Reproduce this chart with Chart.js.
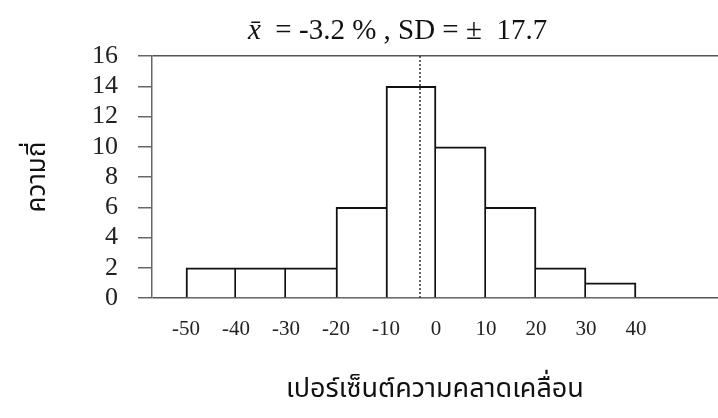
<!DOCTYPE html>
<html>
<head>
<meta charset="utf-8">
<script src="https://cdn.jsdelivr.net/npm/chart.js@4/dist/chart.umd.min.js"></script>
<style>
  body { margin: 0; background: #fff; }
</style>
</head>
<body>
<canvas id="histo" width="718" height="418"></canvas>
<script>
// bins are 10 wide, each starts at binStart
const binStart = [-50, -40, -30, -20, -10, 0, 10, 20, 30];
const counts = [2, 2, 2, 6, 14, 10, 6, 2, 1];
const xTicks = [-50, -40, -30, -20, -10, 0, 10, 20, 30, 40];
const yTicks = [0, 2, 4, 6, 8, 10, 12, 14, 16];
const meanValue = -3.2;
const sdValue = 17.7;

const serif = "'Liberation Serif', 'Times New Roman', serif";
const thai = "'Noto Sans Thai', 'Loma', 'Garuda', 'Tlwg Typo', 'DejaVu Sans', sans-serif";

// title with italic x-bar, drawn by hand
const titlePlugin = {
  id: 'meanTitle',
  afterDraw(chart) {
    const c = chart.ctx;
    c.save();
    c.fillStyle = '#111';
    c.textBaseline = 'alphabetic';
    c.textAlign = 'left';
    let x = 248;
    c.font = 'italic 29px ' + serif;
    c.fillText('x\u0304', x, 39);
    x += c.measureText('x').width;
    c.font = '29px ' + serif;
    c.fillText('  = ' + meanValue + ' % , SD = \u00B1  ' + sdValue, x, 39);
    c.restore();
  }
};

var ctx = document.getElementById('histo').getContext('2d');

grafico = new Chart(ctx, {
  type: 'bar',
  data: {
    datasets: [{
      order: 1,
      data: binStart.map((b, i) => ({ x: b + 5, y: counts[i] })),
      backgroundColor: '#fff',
      borderColor: '#111',
      // each shared edge drawn only once, by the taller bar
      borderWidth: c => {
        const i = c.dataIndex;
        const v = counts[i];
        const prev = i > 0 ? counts[i - 1] : -1;
        const next = i < counts.length - 1 ? counts[i + 1] : -1;
        return { top: 2, left: v > prev ? 2 : 0, right: v >= next ? 2 : 0, bottom: 0 };
      },
      barPercentage: 1,
      categoryPercentage: 1
    }, {
      type: 'line',
      order: 0,
      data: [{ x: meanValue, y: 0 }, { x: meanValue, y: 16 }],
      borderColor: '#333',
      borderWidth: 1.5,
      borderDash: [2, 2],
      pointRadius: 0
    }]
  },
  options: {
    responsive: false,
    animation: false,
    layout: { padding: { top: 56, left: 0, right: 0, bottom: 0 } },
    plugins: {
      legend: { display: false },
      tooltip: { enabled: false }
    },
    scales: {
      x: {
        type: 'linear',
        min: -56.8,
        max: 56.4,
        offset: false,
        grid: { display: false, drawTicks: false, offset: false },
        border: { display: false },
        afterBuildTicks: s => { s.ticks = xTicks.map(v => ({ value: v })); },
        afterFit: s => { s.height = 120; },
        ticks: {
          padding: 19,
          color: '#222',
          maxRotation: 0,
          autoSkip: false,
          font: { family: serif, size: 21 }
        },
        title: {
          display: true,
          text: 'เปอร์เซ็นต์ความคลาดเคลื่อน',
          color: '#111',
          padding: { top: 0, bottom: 10 },
          font: { family: thai, size: 27 }
        }
      },
      y: {
        min: 0,
        max: 16,
        afterBuildTicks: s => { s.ticks = yTicks.map(v => ({ value: v })); },
        afterFit: s => { s.width = 152; },
        grid: {
          color: c => (c.tick && (c.tick.value === 0 || c.tick.value === 16)) ? '#555' : 'rgba(0,0,0,0)',
          tickColor: '#666',
          tickLength: 14,
          lineWidth: 1.5
        },
        border: { color: '#666', width: 1.5 },
        ticks: {
          autoSkip: false,
          padding: 20,
          color: '#222',
          font: { family: serif, size: 26 }
        },
        title: {
          display: true,
          text: 'ความถี่',
          color: '#111',
          padding: { top: 24, bottom: 0 },
          font: { family: thai, size: 26 }
        }
      }
    }
  },
  plugins: [titlePlugin]
});
</script>
</body>
</html>
